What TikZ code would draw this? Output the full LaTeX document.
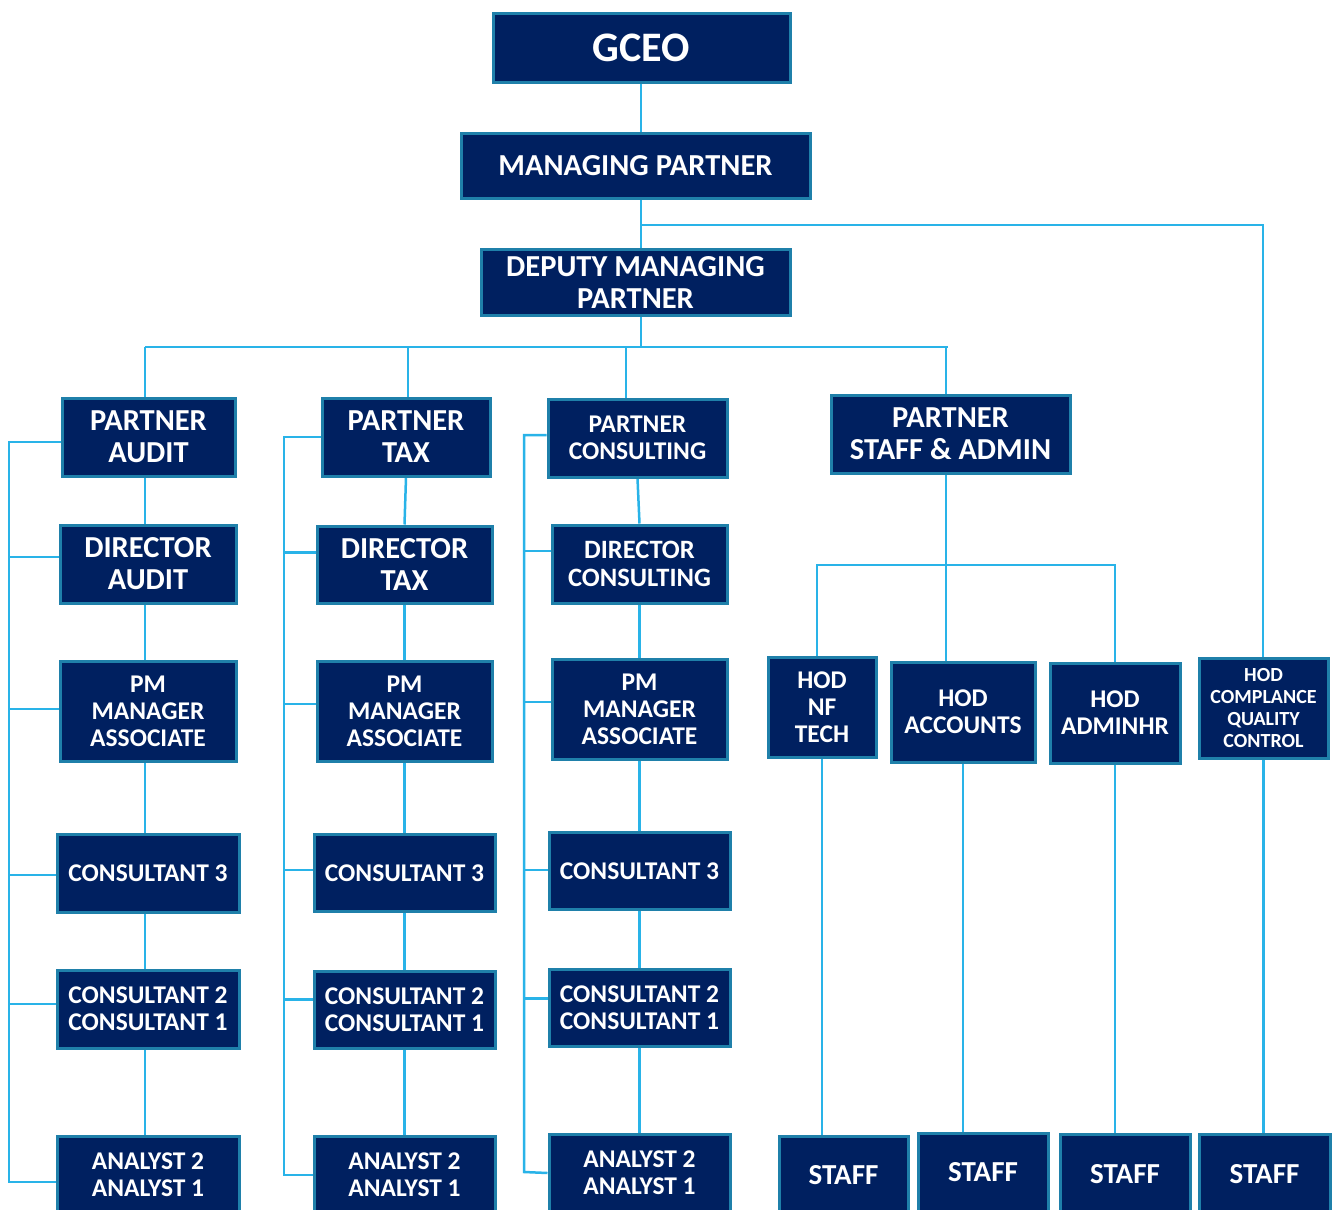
\documentclass[tikz,border=0pt]{standalone}
\usepackage{fontspec}
\setmainfont{Carlito}
\usetikzlibrary{backgrounds}
\definecolor{navy}{RGB}{0,32,96}
\definecolor{edge}{RGB}{31,128,170}
\definecolor{wire}{RGB}{41,179,232}
\tikzset{
  box/.style={draw=edge, fill=navy, line width=3pt, text=white, align=center, inner sep=0pt, font=\bfseries},
  fA/.style={font=\fontsize{30.5}{32}\selectfont\bfseries},
  fB/.style={font=\fontsize{25.5}{27}\selectfont\bfseries},
  fD/.style={font=\fontsize{26.5}{28}\selectfont\bfseries},
  fC/.style={font=\fontsize{20}{21.7}\selectfont\bfseries},
  fS/.style={font=\fontsize{29}{30}\selectfont\bfseries},
  conn/.style={draw=wire, line width=2.5pt},
}
\begin{document}
\begin{tikzpicture}[x=1pt, y=-1pt]
\clip (0,0) rectangle (1336,1210);
% top
\node[box, minimum width=297, minimum height=69, font=\fontsize{42}{44}\selectfont\bfseries] (gceo) at (641.5,47.5) {GCEO};
\node[box, fA, minimum width=349, minimum height=65] (mp) at (635.5,166) {MANAGING PARTNER};
\node[box, fA, minimum width=309, minimum height=66] (dmp) at (635.5,282) {DEPUTY MANAGING\\PARTNER};
% audit column
\node[box, fA, minimum width=173, minimum height=78] (pa) at (148.5,437) {PARTNER\\AUDIT};
\node[box, fA, minimum width=176, minimum height=78] (da) at (148,564) {DIRECTOR\\AUDIT};
\node[box, fB, minimum width=176, minimum height=100] (pma) at (148,711) {PM\\MANAGER\\ASSOCIATE};
\node[box, fB, minimum width=182, minimum height=78] (c3a) at (148,873) {CONSULTANT 3};
\node[box, fB, minimum width=182, minimum height=78] (c2a) at (148,1009) {CONSULTANT 2\\CONSULTANT 1};
\node[box, fB, minimum width=182, minimum height=78] (ana) at (148,1175) {ANALYST 2\\ANALYST 1};
% tax column
\node[box, fA, minimum width=168, minimum height=78] (pt) at (406,437) {PARTNER\\TAX};
\node[box, fA, minimum width=175, minimum height=77] (dt) at (404.5,564.5) {DIRECTOR\\TAX};
\node[box, fB, minimum width=175, minimum height=100] (pmt) at (404.5,711) {PM\\MANAGER\\ASSOCIATE};
\node[box, fB, minimum width=181, minimum height=77] (c3t) at (404.5,873) {CONSULTANT 3};
\node[box, fB, minimum width=181, minimum height=77] (c2t) at (404.5,1009.5) {CONSULTANT 2\\CONSULTANT 1};
\node[box, fB, minimum width=181, minimum height=78] (ant) at (404.5,1175) {ANALYST 2\\ANALYST 1};
% consulting column
\node[box, fB, minimum width=179, minimum height=78] (pc) at (637.5,438) {PARTNER\\CONSULTING};
\node[box, fD, minimum width=175, minimum height=78] (dc) at (639.5,564) {DIRECTOR\\CONSULTING};
\node[box, fB, minimum width=175, minimum height=100] (pmc) at (639.5,709) {PM\\MANAGER\\ASSOCIATE};
\node[box, fB, minimum width=181, minimum height=77] (c3c) at (639.5,871) {CONSULTANT 3};
\node[box, fB, minimum width=181, minimum height=77] (c2c) at (639.5,1007.5) {CONSULTANT 2\\CONSULTANT 1};
\node[box, fB, minimum width=181, minimum height=78] (anc) at (639.5,1173) {ANALYST 2\\ANALYST 1};
% staff & admin
\node[box, fA, minimum width=239, minimum height=78] (psa) at (950.5,434) {PARTNER\\STAFF \& ADMIN};
\node[box, fB, minimum width=108, minimum height=100] (hodn) at (822,707) {HOD\\NF\\TECH};
\node[box, fB, minimum width=144, minimum height=100] (hoda) at (963,712) {HOD\\ACCOUNTS};
\node[box, fB, minimum width=130, minimum height=100] (hodh) at (1115,713) {HOD\\ADMINHR};
\node[box, fC, minimum width=129, minimum height=100] (hodc) at (1263.5,708) {HOD\\COMPLANCE\\QUALITY\\CONTROL};
\node[box, fS, minimum width=129, minimum height=78] (s1) at (843.5,1175) {STAFF};
\node[box, fS, minimum width=130, minimum height=78] (s2) at (983,1172) {STAFF};
\node[box, fS, minimum width=130, minimum height=80] (s3) at (1125,1174) {STAFF};
\node[box, fS, minimum width=131, minimum height=80] (s4) at (1264.5,1174) {STAFF};
% coordinates
\coordinate (tj) at (641,225);
\coordinate (busT) at (1263,225);
\coordinate (busL) at (145,347);
\coordinate (busR) at (948,347);
\coordinate (busTax) at (408,347);
\coordinate (busCon) at (626,347);
\coordinate (busSA) at (946,347);
\coordinate (hL) at (817,565);
\coordinate (hM) at (946,565);
\coordinate (hR) at (1115,565);
\coordinate (L1) at (9,1182);
\coordinate (L2) at (284,1175);
\coordinate (L3) at (524,1172);
\begin{scope}[on background layer]
\fill[white] (0,0) rectangle (1336,1210);
% top chain
\draw[conn] (tj |- gceo.south) -- (tj |- mp.north);
\draw[conn] (tj |- mp.south) -- (tj |- dmp.north);
\draw[conn] (tj) -- (busT) -- (busT |- hodc.north);
\draw[conn] (tj |- dmp.south) -- (tj |- busL);
\draw[conn] (busL) -- (busR);
\draw[conn] (busL) -- (busL |- pa.north);
\draw[conn] (busTax) -- (busTax |- pt.north);
\draw[conn] (busCon) -- (busCon |- pc.north);
\draw[conn] (busSA) -- (busSA |- psa.north);
% audit chain
\draw[conn] (busL |- pa.south) -- (busL |- da.north);
\draw[conn] (busL |- da.south) -- (busL |- pma.north);
\draw[conn] (busL |- pma.south) -- (busL |- c3a.north);
\draw[conn] (busL |- c3a.south) -- (busL |- c2a.north);
\draw[conn] (busL |- c2a.south) -- (busL |- ana.north);
\draw[conn] ([yshift=-5pt]pa.west) -| (L1) -- (L1 -| ana.west);
\draw[conn] ([yshift=7pt]da.west) -- ([yshift=7pt]da.west -| L1);
\draw[conn] ([yshift=2pt]pma.west) -- ([yshift=2pt]pma.west -| L1);
\draw[conn] ([yshift=-2pt]c3a.west) -- ([yshift=-2pt]c3a.west -| L1);
\draw[conn] ([yshift=5pt]c2a.west) -- ([yshift=5pt]c2a.west -| L1);
% tax chain
\draw[conn] (pt.south) -- (dt.north);
\draw[conn] (dt.south) -- (pmt.north);
\draw[conn] (pmt.south) -- (c3t.north);
\draw[conn] (c3t.south) -- (c2t.north);
\draw[conn] (c2t.south) -- (ant.north);
\draw[conn] (pt.west) -| (L2) -- (ant.west);
\draw[conn] ([yshift=12pt]dt.west) -- ([yshift=12pt]dt.west -| L2);
\draw[conn] ([yshift=7pt]pmt.west) -- ([yshift=7pt]pmt.west -| L2);
\draw[conn] ([yshift=3pt]c3t.west) -- ([yshift=3pt]c3t.west -| L2);
\draw[conn] ([yshift=10pt]c2t.west) -- ([yshift=10pt]c2t.west -| L2);
% consulting chain
\draw[conn] (pc.south) -- (dc.north);
\draw[conn] (dc.south) -- (pmc.north);
\draw[conn] (pmc.south) -- (c3c.north);
\draw[conn] (c3c.south) -- (c2c.north);
\draw[conn] (c2c.south) -- (anc.north);
\draw[conn] ([yshift=3pt]pc.west) -| (L3) -- (anc.west);
\draw[conn] ([yshift=13pt]dc.west) -- ([yshift=13pt]dc.west -| L3);
\draw[conn] ([yshift=7pt]pmc.west) -- ([yshift=7pt]pmc.west -| L3);
\draw[conn] ([yshift=1pt]c3c.west) -- ([yshift=1pt]c3c.west -| L3);
\draw[conn] ([yshift=9pt]c2c.west) -- ([yshift=9pt]c2c.west -| L3);
% staff & admin
\draw[conn] (hM |- psa.south) -- (hM |- hoda.north);
\draw[conn] (hL |- hodn.north) -- (hL) -- (hR) -- (hR |- hodh.north);
\draw[conn] (hodn.south) -- (hodn.south |- s1.north);
\draw[conn] (hoda.south) -- (hoda.south |- s2.north);
\draw[conn] (hodh.south) -- (hodh.south |- s3.north);
\draw[conn] (hodc.south) -- (hodc.south |- s4.north);
\end{scope}
\end{tikzpicture}
\end{document}
